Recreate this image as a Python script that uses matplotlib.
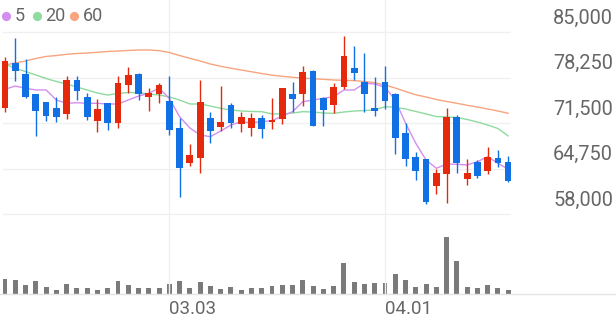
import numpy as np
import matplotlib
matplotlib.use('Agg')
import matplotlib.pyplot as plt

# daily candles (KRW)
opens = [73700, 80450, 78750, 75750, 74550, 73750, 72800, 77900, 75400, 71800,
         74400, 71450, 77150, 78750, 75300, 75750, 74750, 70800, 65500, 66250,
         72200, 70950, 74150, 71350, 70700, 72300, 71700, 72050, 75800, 75800,
         79250, 75250, 74150, 76800, 79600, 77550, 73700, 77550, 75800, 70050,
         66500, 66150, 62150, 63950, 72450, 63200, 65650, 64400, 66350, 65650]
highs = [81350, 84050, 80950, 75750, 74550, 75300, 78450, 78450, 75900, 75050,
         74400, 78450, 79850, 78950, 76650, 77400, 78450, 72200, 68350, 77900,
         73100, 77000, 74400, 73100, 72950, 72700, 75150, 76750, 77650, 80000,
         79350, 75400, 77400, 84400, 82900, 81950, 78300, 80000, 75900, 71450,
         67250, 66150, 64650, 73750, 72700, 66100, 66000, 68000, 67500, 66600]
lows = [73200, 77800, 75150, 69550, 71850, 71700, 72050, 74900, 71950, 70200,
        70450, 70700, 75900, 74900, 73300, 74400, 69700, 60500, 65100, 64050,
        68600, 70350, 70700, 70200, 69550, 69250, 70600, 71350, 73200, 74000,
        71100, 71100, 72950, 76500, 77900, 73200, 72550, 73550, 66900, 65100,
        63050, 59500, 60950, 59700, 64050, 62300, 63300, 63950, 65000, 62800]
closes = [80750, 79200, 75400, 73300, 72550, 72450, 77900, 76300, 72350, 73600,
          71550, 77400, 78600, 75800, 76000, 77150, 70450, 64800, 66750, 74550,
          70350, 71600, 71450, 72350, 72300, 70550, 71950, 76750, 75000, 79100,
          71100, 73450, 76900, 81500, 78850, 75800, 73300, 74800, 69250, 66150,
          64400, 59850, 64050, 72450, 65600, 64050, 63700, 66400, 65500, 62950]

ma5 = [76500, 76990, 76650, 76400, 76400, 74910, 74420, 74510, 74420, 74420,
       74320, 74320, 74910, 75500, 75910, 76650, 75160, 72440, 70760, 69720,
       69470, 70310, 71200, 71690, 71540, 71690, 71840, 72540, 73180, 74660,
       74910, 75160, 75400, 76400, 76400, 77390, 77290, 76800, 74910, 71460,
       68490, 66010, 64780, 65420, 65370, 65270, 65760, 66500, 65520, 64630]
ma20 = [80250, 79590, 79140, 78620, 78100, 77660, 77290, 76840, 76400, 75950,
        75650, 75880, 76030, 76000, 75800, 75650, 75360, 74910, 74320, 74320,
        74020, 73680, 73430, 73280, 73210, 73180, 72840, 72840, 72980, 73180,
        73130, 72980, 72940, 73130, 73280, 73350, 73430, 73920, 73830, 73580,
        73210, 72840, 72460, 72390, 72320, 72020, 71650, 71200, 70680, 69570]
ma60 = [80100, 80400, 80700, 81070, 81370, 81510, 81690, 81810, 81880, 81990,
        82110, 82180, 82260, 82330, 82330, 82230, 81960, 81510, 81100, 80700,
        80250, 79910, 79620, 79360, 79100, 78840, 78590, 78430, 78290, 78150,
        78070, 77980, 77880, 77830, 77780, 77660, 77480, 77140, 76690, 76170,
        75680, 75360, 74990, 74690, 74420, 74130, 73870, 73580, 73280, 72940]

# volume, thousand shares
volumes = [3060, 2860, 1860, 2540, 1400, 860, 2000, 1200, 1200, 860,
           1200, 2540, 1740, 1200, 1200, 1200, 2000, 2540, 1200, 2400,
           1540, 1060, 1340, 860, 1200, 1200, 1540, 1740, 1860, 2860,
           1660, 1000, 1540, 6200, 2400, 2000, 2200, 2200, 4000, 2860,
           1340, 2000, 1340, 11400, 6540, 1340, 1200, 1740, 1200, 860]

y_ticks = [85000, 78250, 71500, 64750, 58000]
x_label_idx = [16, 37]
x_labels = ['03.03', '04.01']
ma_names = ['5', '20', '60']

RED = '#e4290d'
BLUE = '#1170e4'
MA_COLORS = ['#d48ef0', '#8fda9f', '#f7a47f']
TXT = '#666666'
GRID = '#f0f0f0'

plt.rcParams['font.family'] = ['Roboto', 'DejaVu Sans']

W, H = 616, 321
fig = plt.figure(figsize=(W / 100, H / 100), dpi=100)

# layout in pixels
plot_right = 511
plot_bottom = 294
grid_top, grid_bot = 32, 214
first_x, step_x = 5, 10.27

ax = fig.add_axes([0, (H - plot_bottom) / H, plot_right / W, plot_bottom / H])
ax.set_xlim(-first_x / step_x, (plot_right - first_x) / step_x)
px_per_won = (grid_bot - grid_top) / (max(y_ticks) - min(y_ticks))
ax.set_ylim(min(y_ticks) - (plot_bottom - grid_bot) / px_per_won,
            max(y_ticks) + grid_top / px_per_won)
ax.axis('off')

# volume on a second scale, drawn behind
vax = ax.twinx()
vax.set_ylim(0, max(volumes) * plot_bottom / 57)
vax.axis('off')
ax.set_zorder(vax.get_zorder() + 1)
ax.patch.set_visible(False)

x = np.arange(len(closes))
vax.bar(x, volumes, width=0.48, color='#7a7a7a', zorder=2)

# grid
for v in y_ticks:
    ax.plot([-0.2, ax.get_xlim()[1]], [v, v], color=GRID, lw=1.0, zorder=0)
for i in x_label_idx:
    ax.axvline(i, color=GRID, lw=1.0, zorder=0)
fig.add_artist(plt.Line2D([0, 1], [(H - plot_bottom) / H] * 2, color='#e4e4e4', lw=1.0))

# moving averages
for ma, c in zip([ma60, ma20, ma5], MA_COLORS[::-1]):
    ax.plot(x, ma, color=c, lw=1.0, zorder=2, solid_capstyle='round')

# candles
for i in range(len(closes)):
    o, h, l, c = opens[i], highs[i], lows[i], closes[i]
    col = RED if c >= o else BLUE
    ax.vlines(i, l, h, color=col, lw=1.0, zorder=3)
    body = max(abs(c - o), 120)
    ax.bar(i, body, bottom=min(o, c), width=0.66, color=col, zorder=4)

# right price labels
for v in y_ticks:
    ax.annotate(f'{v:,}', xy=(613 / W, v), xycoords=('figure fraction', 'data'),
                xytext=(0, 10), textcoords='offset points',
                ha='right', va='center', fontsize=14.3, color=TXT)

# date labels
for i, lab in zip(x_label_idx, x_labels):
    ax.annotate(lab, xy=(i, 0), xycoords=('data', 'axes fraction'),
                xytext=(0, -11), textcoords='offset points',
                ha='left', va='center', fontsize=13.5, color=TXT)

# legend
leg_x = [6, 37, 74]
leg_y = 1 - 15.7 / H
for lx, name, c in zip(leg_x, ma_names, MA_COLORS):
    fig.add_artist(plt.Line2D([lx / W], [leg_y], marker='o', markersize=6.6,
                              markerfacecolor=c, markeredgecolor='none',
                              linestyle='none', transform=fig.transFigure))
    fig.text((lx + 8.5) / W, leg_y, name, fontsize=13, color=TXT,
             ha='left', va='center')

fig.savefig('out.png', dpi=100)
